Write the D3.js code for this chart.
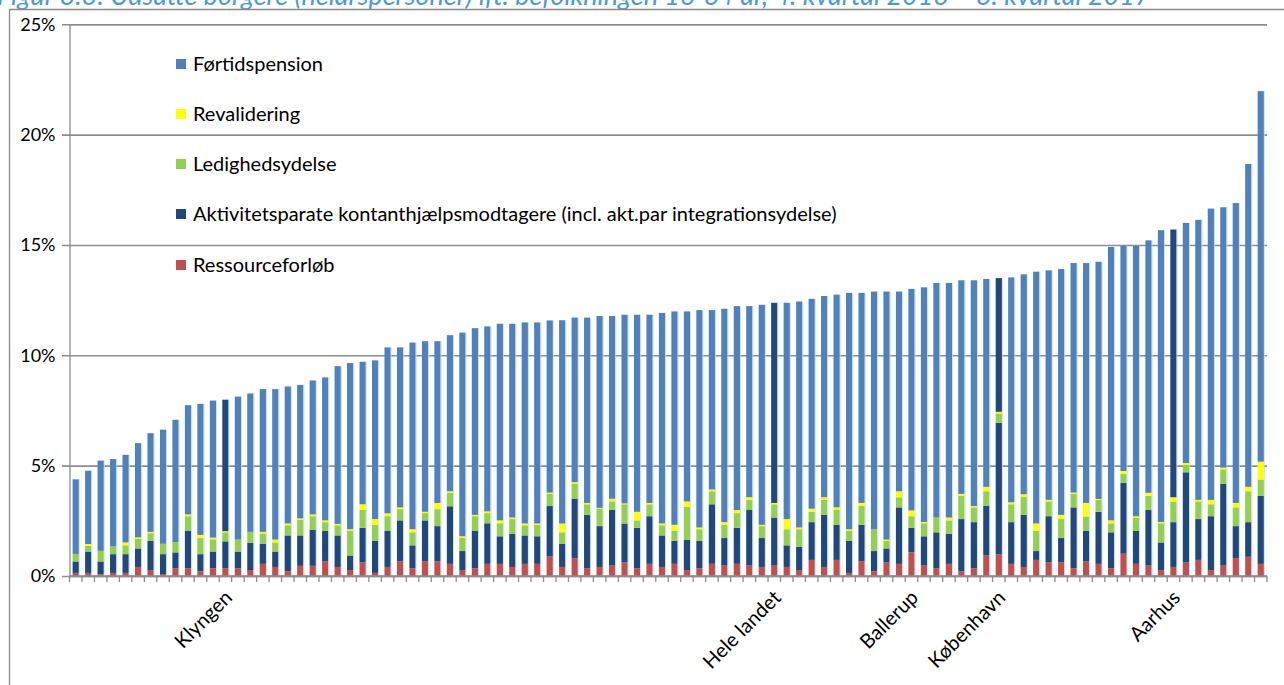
<!DOCTYPE html>
<html>
<head>
<meta charset="utf-8">
<script src="https://cdn.jsdelivr.net/npm/d3@7"></script>
<style>
  html, body { margin: 0; padding: 0; background: #fff; overflow: hidden; }
  svg { display: block; font-family: Lato, "Open Sans", sans-serif; }
</style>
</head>
<body>
<svg id="chart" width="1284" height="685"></svg>
<script>
// Kommuner sorteret efter samlet andel; kun udvalgte navne vises på aksen
const categories = [
  "", "", "", "", "", "", "", "", "", "", "", "",
  "Klyngen", "", "", "", "", "", "", "", "", "", "", "",
  "", "", "", "", "", "", "", "", "", "", "", "",
  "", "", "", "", "", "", "", "", "", "", "", "",
  "", "", "", "", "", "", "", "", "Hele landet", "", "", "",
  "", "", "", "", "", "", "", "Ballerup", "", "", "", "",
  "", "", "København", "", "", "", "", "", "", "", "", "",
  "", "", "", "", "Aarhus", "", "", "", "", "", "", ""
];
const highlighted = ["Klyngen", "Hele landet", "København", "Aarhus"];

// Andel af befolkningen (pct.) pr. ydelse
const ressourceforloeb = [
  0.14,0.14,0.08,0.14,0.14,0.41,0.27,0.09,0.35,0.35,0.21,0.35,
  0.35,0.35,0.27,0.55,0.41,0.21,0.46,0.46,0.67,0.41,0.27,0.61,
  0.14,0.41,0.67,0.35,0.67,0.67,0.55,0.27,0.35,0.55,0.55,0.41,
  0.55,0.55,0.88,0.41,0.81,0.35,0.41,0.47,0.61,0.35,0.55,0.41,
  0.55,0.27,0.35,0.55,0.47,0.55,0.47,0.41,0.47,0.41,0.27,0.73,
  0.41,0.73,0.14,0.67,0.21,0.61,0.55,1.07,0.47,0.35,0.55,0.21,
  0.35,0.93,0.99,0.55,0.41,0.73,0.61,0.61,0.35,0.67,0.55,0.35,
  1.01,0.55,0.47,0.27,0.41,0.61,0.73,0.27,0.47,0.81,0.87,0.55
];
const aktivitetsparate = [
  0.52,0.97,0.58,0.85,0.85,0.84,1.32,0.90,0.72,1.69,0.78,0.76,
  1.22,0.76,1.24,0.90,0.70,1.63,1.38,1.64,1.37,1.43,0.66,1.57,
  1.45,1.63,1.85,1.04,1.85,1.59,2.61,0.86,1.69,1.84,1.25,1.51,
  1.29,1.25,2.29,1.04,2.70,2.42,1.85,2.52,1.77,1.83,2.16,1.43,
  1.04,1.38,1.24,2.70,1.25,1.63,2.52,1.31,2.18,0.98,1.06,1.71,
  2.36,1.59,1.45,1.65,0.92,0.64,2.56,1.11,1.33,1.63,1.37,2.37,
  2.09,2.26,5.95,1.89,2.36,0.40,2.10,1.11,2.76,1.37,2.36,1.63,
  3.21,1.49,2.52,1.25,2.03,4.09,1.85,2.44,3.71,1.45,1.57,3.09
];
const ledighedsydelse = [
  0.34,0.26,0.48,0.35,0.40,0.43,0.35,0.47,0.47,0.67,0.73,0.55,
  0.41,0.54,0.49,0.47,0.41,0.46,0.71,0.61,0.40,0.46,1.13,0.81,
  0.73,0.67,0.51,0.59,0.33,0.77,0.61,0.59,0.67,0.46,0.59,0.66,
  0.46,0.52,0.55,0.53,0.67,0.48,0.80,0.39,0.87,0.34,0.54,0.46,
  0.47,1.48,0.53,0.59,0.60,0.67,0.46,0.54,0.60,0.73,0.79,0.46,
  0.68,0.67,0.47,0.85,0.99,0.34,0.46,0.53,0.59,0.67,0.60,1.06,
  0.67,0.65,0.42,0.81,0.81,0.93,0.67,0.86,0.61,0.66,0.54,0.41,
  0.40,0.61,0.65,0.87,0.93,0.33,0.80,0.54,0.65,0.85,1.40,0.73
];
const revalidering = [
  0.00,0.08,0.00,0.00,0.13,0.07,0.06,0.00,0.00,0.08,0.14,0.08,
  0.05,0.00,0.00,0.08,0.13,0.08,0.06,0.08,0.08,0.06,0.06,0.26,
  0.26,0.13,0.08,0.14,0.06,0.28,0.07,0.08,0.06,0.08,0.13,0.07,
  0.08,0.06,0.06,0.40,0.07,0.06,0.03,0.12,0.04,0.39,0.06,0.08,
  0.26,0.25,0.08,0.08,0.12,0.14,0.12,0.06,0.06,0.46,0.08,0.15,
  0.12,0.12,0.06,0.14,0.00,0.06,0.27,0.26,0.06,0.00,0.13,0.08,
  0.06,0.20,0.08,0.09,0.12,0.32,0.07,0.19,0.06,0.61,0.04,0.13,
  0.14,0.06,0.13,0.06,0.20,0.09,0.07,0.20,0.08,0.20,0.20,0.81
];
const foertidspension = [
  3.38,3.32,4.09,3.96,3.97,4.27,4.47,5.17,5.54,4.95,5.94,6.21,
  5.96,6.48,6.27,6.47,6.82,6.21,6.05,6.07,6.48,7.15,7.53,6.46,
  7.19,7.52,7.25,8.46,7.73,7.33,7.07,9.23,8.46,8.38,8.91,8.78,
  9.11,9.11,7.80,9.21,7.46,8.40,8.69,8.28,8.55,8.93,8.53,9.54,
  9.67,8.61,9.85,8.13,9.67,9.24,8.66,9.97,9.07,9.80,10.24,9.51,
  9.12,9.64,10.71,9.52,10.77,11.24,9.05,10.04,10.63,10.63,10.63,9.68,
  10.23,9.42,6.06,10.19,9.97,11.41,10.40,11.14,10.40,10.87,10.75,12.39,
  10.20,12.25,11.44,13.22,12.13,10.88,12.69,13.20,11.80,13.59,14.63,16.79
];

const yTicks = [0, 5, 10, 15, 20, 25];

const series = [
  { key: "ressource", name: "Ressourceforløb", values: ressourceforloeb, color: "#C0504D" },
  { key: "aktiv", name: "Aktivitetsparate kontanthjælpsmodtagere (incl. akt.par integrationsydelse)", values: aktivitetsparate, color: "#1F497D" },
  { key: "ledig", name: "Ledighedsydelse", values: ledighedsydelse, color: "#92D050" },
  { key: "reval", name: "Revalidering", values: revalidering, color: "#FFFF00" },
  { key: "foertid", name: "Førtidspension", values: foertidspension, color: "#4F81BD" }
];
const highlightColor = "#1F497D";

const rows = categories.map((c, i) => {
  const r = { idx: i, label: c };
  series.forEach(s => { r[s.key] = s.values[i]; });
  return r;
});

const svg = d3.select("#chart");
const W = 1284, H = 685;
const plotL = 69.5, plotR = 1267, plotT = 24.3, plotB = 576;
const gridColor = "#8E8E8E";

const x = d3.scaleBand().domain(rows.map(d => d.idx)).range([plotL, plotR])
  .paddingInner(0.5).paddingOuter(0.25);
const y = d3.scaleLinear().domain([0, 25]).range([plotB, plotT]);

// Titel (delvist uden for billedet øverst)
const title = svg.append("text")
  .attr("x", -3).attr("y", 5)
  .attr("fill", "#4A9BD6")
  .style("font-style", "italic")
  .style("font-size", "22px")
  .text("Figur 3.3: Udsatte borgere (helårspersoner) ift. befolkningen 16-64 år, 4. kvartal 2016 – 3. kvartal 2017");
const tw = title.node().getComputedTextLength();
title.style("font-size", (22 * 1154 / tw) + "px");

// Diagramramme
svg.append("path")
  .attr("d", `M9.5,${H} V9.5 H${W}`)
  .attr("fill", "none").attr("stroke", "#8A8A8A").attr("stroke-width", 1.3);

// Gitterlinjer og y-akse
const yAxis = d3.axisLeft(y).tickValues(yTicks).tickFormat(d => d + "%")
  .tickSize(-(plotR - plotL)).tickPadding(14);
const gy = svg.append("g").attr("transform", `translate(${plotL},0)`).call(yAxis);
gy.select(".domain").attr("stroke", gridColor).attr("stroke-width", 1.3);
gy.selectAll(".tick line").attr("stroke", gridColor).attr("stroke-width", 1.6)
  .attr("x1", -7.5);
gy.selectAll(".tick text").attr("fill", "#000").style("font-size", "18px")
  .style("font-family", "Lato, sans-serif");

// Stablede søjler
const stack = d3.stack().keys(series.map(s => s.key));
const stacked = stack(rows);
const colorOf = {};
series.forEach(s => { colorOf[s.key] = s.color; });

const gBars = svg.append("g");
stacked.forEach(layer => {
  gBars.append("g").selectAll("rect").data(layer).join("rect")
    .attr("x", d => x(d.data.idx))
    .attr("width", x.bandwidth())
    .attr("y", d => y(d[1]))
    .attr("height", d => Math.max(0, y(d[0]) - y(d[1])))
    .attr("fill", d => (layer.key === "foertid" && highlighted.includes(d.data.label))
      ? highlightColor : colorOf[layer.key]);
});
// Lys kant på søjlernes højre side
const total = d => series.reduce((a, s) => a + d[s.key], 0);
gBars.append("g").selectAll("rect").data(rows).join("rect")
  .attr("x", d => x(d.idx) + x.bandwidth())
  .attr("width", 1)
  .attr("y", d => y(total(d)))
  .attr("height", d => plotB - y(total(d)))
  .attr("fill", "#C9D8EC").attr("opacity", 0.8);

// x-akse med streger mellem kategorierne
const step = x.step();
const gx = svg.append("g");
gx.append("line").attr("x1", plotL).attr("x2", plotR).attr("y1", plotB).attr("y2", plotB)
  .attr("stroke", gridColor).attr("stroke-width", 1.6);
gx.selectAll("line.tk").data(d3.range(rows.length + 1)).join("line")
  .attr("class", "tk")
  .attr("x1", i => plotL + i * step).attr("x2", i => plotL + i * step)
  .attr("y1", plotB).attr("y2", plotB + 6)
  .attr("stroke", gridColor).attr("stroke-width", 1.3);

// Forklaring
const legendRows = series.slice().reverse();
const lg = svg.append("g");
const legendY = [64, 114, 164, 214, 265];
legendRows.forEach((s, i) => {
  lg.append("rect").attr("x", 176).attr("y", legendY[i] - 5).attr("width", 10).attr("height", 10)
    .attr("fill", s.color);
  lg.append("text").attr("x", 193).attr("y", legendY[i]).attr("dy", "0.35em")
    .style("font-size", "18px").attr("fill", "#000").text(s.name);
});
// Tilpas skriftstørrelsen efter den længste tekst
const longest = lg.selectAll("text").filter(function () {
  return d3.select(this).text().startsWith("Aktivitetsparate");
});
const lw = longest.node().getComputedTextLength();
const fs = 18 * 644 / lw;
lg.selectAll("text").style("font-size", fs + "px");

// Kategorinavne, drejet 45 grader
svg.append("g").selectAll("text").data(rows.filter(d => d.label !== "")).join("text")
  .attr("transform", d => `translate(${x(d.idx) + x.bandwidth() / 2 + 3},${plotB + 18}) rotate(-45)`)
  .attr("text-anchor", "end")
  .attr("dy", "0.35em")
  .style("font-size", fs + "px")
  .attr("fill", "#000")
  .text(d => d.label);
</script>
</body>
</html>
